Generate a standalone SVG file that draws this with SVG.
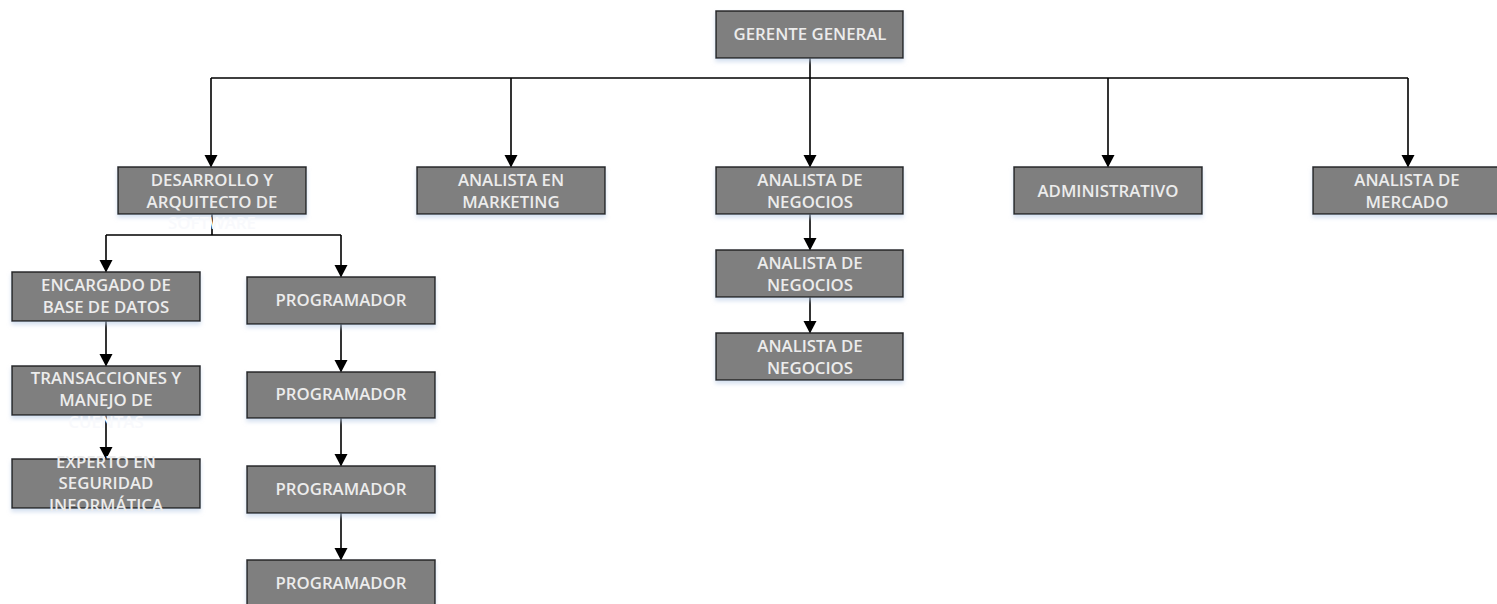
<svg xmlns="http://www.w3.org/2000/svg" width="1497" height="604" viewBox="0 0 1497 604">
<style>
.box{fill:#7f7f7f;stroke:#262626;stroke-width:1.5;filter:url(#sh)}
.t{font-family:"Open Sans","Liberation Sans",sans-serif;font-size:16.8px;font-weight:600;fill:#ececec;text-anchor:middle}
.h{fill:#f8f9fc}
.c{fill:none;stroke:#000;stroke-width:1.6;marker-end:url(#ah)}
.l{fill:none;stroke:#000;stroke-width:1.6}
</style>
<defs>
<filter id="sh" x="-10%" y="-20%" width="120%" height="160%">
<feDropShadow dx="0" dy="3" stdDeviation="2" flood-color="#b8cbe6" flood-opacity="0.6"/>
</filter>
<marker id="ah" markerUnits="userSpaceOnUse" markerWidth="13" markerHeight="14" refX="12" refY="7" orient="auto" viewBox="0 0 13 14">
<path d="M0,0.5 L12.5,7 L0,13.5 Z" fill="#000"/>
</marker>
</defs>
<rect width="1497" height="604" fill="#fff"/>
<g id="connectors">
<path class="l" d="M810,58 V78 M211,78 H1408"/>
<path class="c" d="M211,78 V167"/>
<path class="c" d="M511,78 V167"/>
<path class="c" d="M810,78 V167"/>
<path class="c" d="M1108,78 V167"/>
<path class="c" d="M1408,78 V167"/>
<path class="l" d="M212,214 V235 M106,235 H341"/>
<path class="c" d="M106,235 V272"/>
<path class="c" d="M341,235 V277"/>
<path class="c" d="M106,321 V366"/>
<path class="c" d="M106,415 V459"/>
<path class="c" d="M341,324 V372"/>
<path class="c" d="M341,418 V466"/>
<path class="c" d="M341,513 V560"/>
<path class="c" d="M810,214 V250"/>
<path class="c" d="M810,297 V333"/>
</g>
<g id="gerente"><rect class="box" x="716" y="11" width="187" height="47"/><text class="t" x="810" y="40">GERENTE GENERAL</text></g>
<g id="desarrollo"><rect class="box" x="118" y="167" width="188" height="47"/><text class="t" x="212" y="186">DESARROLLO Y</text><text class="t" x="212" y="207.5">ARQUITECTO DE</text><text class="t h" x="212" y="229">SOFTWARE</text></g>
<g id="marketing"><rect class="box" x="417" y="167" width="188" height="47"/><text class="t" x="511" y="186">ANALISTA EN</text><text class="t" x="511" y="207.5">MARKETING</text></g>
<g id="negocios1"><rect class="box" x="716" y="167" width="187" height="47"/><text class="t" x="810" y="186">ANALISTA DE</text><text class="t" x="810" y="207.5">NEGOCIOS</text></g>
<g id="administrativo"><rect class="box" x="1014" y="167" width="188" height="47"/><text class="t" x="1108" y="197">ADMINISTRATIVO</text></g>
<g id="mercado"><rect class="box" x="1313" y="167" width="190" height="47"/><text class="t" x="1407" y="186">ANALISTA DE</text><text class="t" x="1407" y="207.5">MERCADO</text></g>
<g id="negocios2"><rect class="box" x="716" y="250" width="187" height="47"/><text class="t" x="810" y="269">ANALISTA DE</text><text class="t" x="810" y="290.5">NEGOCIOS</text></g>
<g id="negocios3"><rect class="box" x="716" y="333" width="187" height="47"/><text class="t" x="810" y="352">ANALISTA DE</text><text class="t" x="810" y="373.5">NEGOCIOS</text></g>
<g id="encargado"><rect class="box" x="12" y="272" width="188" height="49"/><text class="t" x="106" y="291">ENCARGADO DE</text><text class="t" x="106" y="312.5">BASE DE DATOS</text></g>
<g id="transacciones"><rect class="box" x="12" y="366" width="188" height="49"/><text class="t" x="106" y="384">TRANSACCIONES Y</text><text class="t" x="106" y="406">MANEJO DE</text><text class="t h" x="106" y="428">CUENTAS</text></g>
<g id="experto"><rect class="box" x="12" y="459" width="188" height="49"/><text class="t" x="106" y="467.5">EXPERTO EN</text><text class="t" x="106" y="489">SEGURIDAD</text><text class="t" x="106" y="510.5">INFORMÁTICA</text></g>
<g id="prog1"><rect class="box" x="247" y="277" width="188" height="47"/><text class="t" x="341" y="306">PROGRAMADOR</text></g>
<g id="prog2"><rect class="box" x="247" y="372" width="188" height="46"/><text class="t" x="341" y="400">PROGRAMADOR</text></g>
<g id="prog3"><rect class="box" x="247" y="466" width="188" height="47"/><text class="t" x="341" y="495">PROGRAMADOR</text></g>
<g id="prog4"><rect class="box" x="247" y="560" width="188" height="47"/><text class="t" x="341" y="589">PROGRAMADOR</text></g>
</svg>
